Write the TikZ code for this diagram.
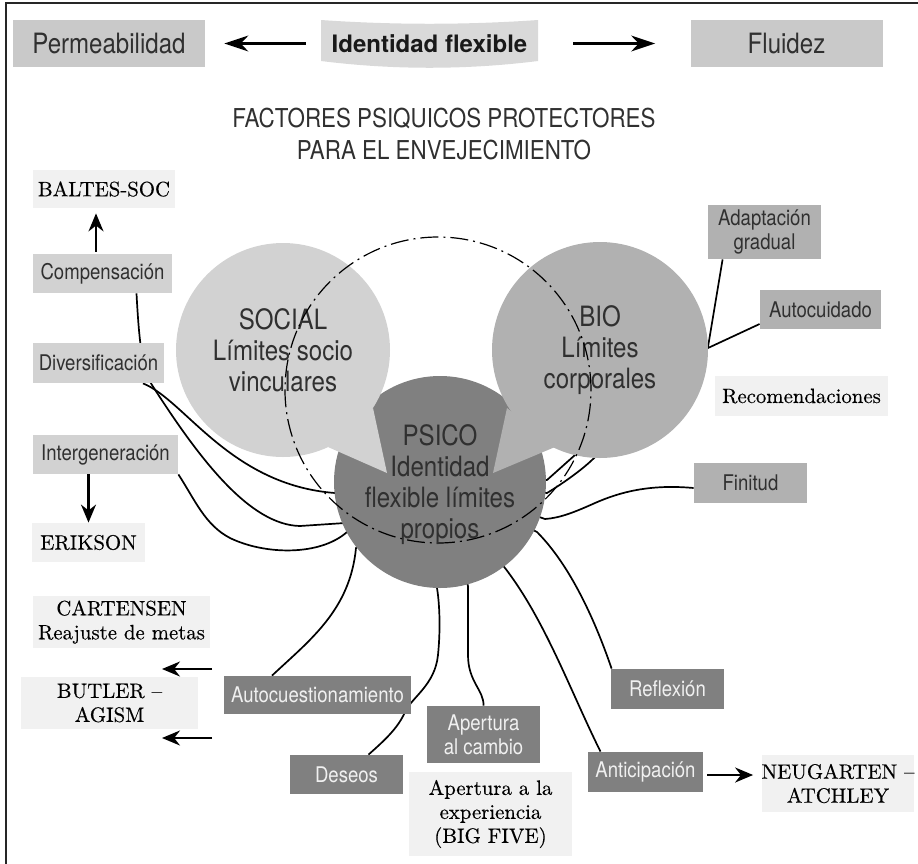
\documentclass[tikz,border=0pt]{standalone}
\usepackage{fontspec}
\usepackage{xcolor}
\usepackage{tikz}
\usetikzlibrary{arrows.meta, calc}

\newfontfamily\sanslight{TeX Gyre Heros}[FakeStretch=0.86, Ligatures=TeX]
\newfontfamily\sansplain{TeX Gyre Heros}[Ligatures=TeX]
\newfontfamily\serifdark{Latin Modern Roman}[FakeBold=0.35, Ligatures=TeX]

\definecolor{topgray}{HTML}{C9C9C9}
\definecolor{identgray}{HTML}{D9D9D9}
\definecolor{socgray}{HTML}{D2D2D2}
\definecolor{biogray}{HTML}{B1B1B1}
\definecolor{psigray}{HTML}{808080}
\definecolor{refgray}{HTML}{F1F1F1}
\definecolor{txtgray}{HTML}{303030}

\pgfdeclarelayer{background}
\pgfsetlayers{background,main}

\tikzset{
    topbox/.style={rectangle, fill=topgray, minimum width=96pt, minimum height=23.5pt, inner sep=0pt, text=txtgray, font=\sanslight\fontsize{14}{16}\selectfont},
    sbox/.style={rectangle, inner sep=0pt, align=center, text=txtgray, font=\sanslight\fontsize{10.8}{12}\selectfont},
    lbox/.style={sbox, fill=socgray},
    rbox/.style={sbox, fill=biogray},
    dbox/.style={sbox, fill=psigray, text=white!94!black},
    refbox/.style={rectangle, inner sep=0pt, align=center, fill=refgray, text=black, font=\serifdark\fontsize{10.4}{12}\selectfont},
    bubble/.style={circle, inner sep=0pt, align=center, text=txtgray, font=\sanslight\fontsize{14}{15.5}\selectfont},
    link/.style={draw=black, line width=0.85pt},
    arr/.style={-{Stealth[length=9pt, width=7.5pt]}, line width=1.1pt},
    bigarr/.style={-{Stealth[length=12pt, width=8pt]}, line width=1.1pt},
    dashdot/.style={line width=0.6pt, dash pattern=on 9pt off 2.5pt on 1pt off 2.5pt},
}

\begin{document}
\begin{tikzpicture}[x=0.5pt, y=-0.5pt]
    \useasboundingbox (0,0) rectangle (918,864);
    % Frame
    \draw[line width=1pt, black!85] (6,864) -- (6,3) -- (918,3);

    % Top row
    \node[topbox] (perm) at (109,43.5) {Permeabilidad};
    \node[topbox] (flu) at (786.5,43.5) {Fluidez};
    \fill[identgray] (321,20) .. controls (393,25) and (466,25) .. (538,20) -- (538,61) .. controls (466,70) and (393,70) .. (321,61) -- cycle;
    \node[minimum width=108.5pt, minimum height=22pt, inner sep=0pt, text=black!90, font=\sansplain\bfseries\fontsize{12}{14}\selectfont] (ident) at (429.5,43.5) {Identidad flexible};
    \draw[bigarr, shorten <=7.5pt, shorten >=9.5pt] (ident.west) -- (perm.east);
    \draw[bigarr, shorten <=17.5pt, shorten >=17.5pt] (ident.east) -- (flu.west);

    % Title
    \node[align=center, text=txtgray, font=\sanslight\fontsize{13}{16}\selectfont] (title) at (444,134) {FACTORES PSIQUICOS PROTECTORES\\PARA EL ENVEJECIMIENTO};

    % Circles
    \node[bubble, fill=psigray, minimum size=106pt] (psico) at (440,482) {};
    \fill[socgray] (373,408) -- (328,447) -- (387,473) -- cycle;
    \node[bubble, fill=socgray, minimum size=107pt] (social) at (283,350) {SOCIAL\\Límites socio\\vinculares};
    \fill[biogray] (507,408) -- (555,447) -- (493,473) -- cycle;
    \node[bubble, fill=biogray, minimum size=108pt] (bio) at (600,350) {BIO\\Límites\\corporales};
    \draw[dashdot] (438,390) circle[radius=76.5pt];
    \node[bubble] (psicotext) at (440,485) {PSICO\\Identidad\\flexible límites\\propios};

    % Left column
    \node[refbox, minimum width=71pt, minimum height=19pt] (baltes) at (104,189) {BALTES-SOC};
    \node[lbox, minimum width=69.5pt, minimum height=19.5pt] (comp) at (102.5,273.5) {Compensación};
    \node[lbox, minimum width=65.5pt, minimum height=20pt] (div) at (98.5,363) {Diversificación};
    \node[lbox, minimum width=72.5pt, minimum height=19.5pt] (inter) at (105.5,454.5) {Intergeneración};
    \node[refbox, minimum width=56.5pt, minimum height=19.5pt] (erik) at (88.5,542.5) {ERIKSON};
    \node[refbox, minimum width=88.5pt, minimum height=26pt] (cart) at (121.5,622) {CARTENSEN\\Reajuste de metas};
    \node[refbox, minimum width=88.5pt, minimum height=26pt] (butler) at (109.5,703) {BUTLER --\\AGISM};
    \draw[arr, shorten <=1pt, shorten >=2.5pt] ($(comp.north)+(-6.5,0)$) -- ($(baltes.south)+(-8,0)$);
    \draw[arr] (erik.north |- inter.south) -- (erik.north);
    \coordinate (agismA) at (212,669);
    \coordinate (agismAend) at (162,669);
    \coordinate (agismB) at (212,738);
    \coordinate (agismBend) at (162,738);
    \draw[arr] (agismA) -- (agismAend);
    \draw[arr] (agismB) -- (agismBend);

    % Bottom row
    \node[dbox, minimum width=93.5pt, minimum height=19pt] (autoc) at (317.5,695) {Autocuestionamiento};
    \node[dbox, minimum width=56.5pt, minimum height=19.5pt] (deseos) at (346.5,774.5) {Deseos};
    \node[dbox, minimum width=56.5pt, minimum height=28.5pt] (acamb) at (483.5,734.5) {Apertura\\al cambio};
    \node[refbox, minimum width=81.5pt, minimum height=42pt] (bigfive) at (490.5,814) {Apertura a la\\experiencia\\(BIG FIVE)};
    \node[dbox, minimum width=56.5pt, minimum height=20pt] (refl) at (667.5,689) {Reflexión};
    \node[dbox, minimum width=57.5pt, minimum height=20pt] (antic) at (645.5,772) {Anticipación};
    \node[refbox, minimum width=73pt, minimum height=28.5pt] (neug) at (838,783.5) {NEUGARTEN --\\ATCHLEY};
    \draw[arr, shorten <=2pt, shorten >=4pt] ($(antic.east)+(0,3)$) -- ($(neug.west)+(0,-8.5)$);

    % Right column
    \node[rbox, minimum width=56.5pt, minimum height=27pt] (adapt) at (764.5,232) {Adaptación\\gradual};
    \node[rbox, minimum width=60.5pt, minimum height=19.5pt] (autocui) at (820.5,309.5) {Autocuidado};
    \node[refbox, minimum width=86.5pt, minimum height=20pt] (recom) at (801.5,396) {Recomendaciones};
    \node[rbox, minimum width=56.5pt, minimum height=20pt] (finitud) at (750.5,483) {Finitud};

    % Links to the circles
    \begin{pgfonlayer}{background}
        \draw[link] ($(comp.south)+(34,0)$) .. controls (139,340) and (142,370) .. (152,385) .. controls (200,460) and (250,525) .. (300,526) -- (345,523) -- (psico.center);
        \draw[link] ($(div.south)+(44.5,0)$) .. controls (185,400) and (230,485) .. (335,493) -- (psico.center);
        \draw[link] (inter.south east) .. controls (195,500) and (205,525) .. (230,538) .. controls (265,555) and (320,556) .. (347,532) -- (psico.center);
        \draw[link] ($(autoc.north)+(-45.5,0)$) .. controls (310,640) and (350,610) .. (356,548) -- (psico.center);
        \draw[link] ($(deseos.north)+(22,0)$) .. controls (385,740) and (398,728) .. (405,712) .. controls (412,697) and (435,685) .. (438,655) .. controls (441,625) and (439,600) .. (437,588) -- (psico.center);
        \draw[link] (acamb.north) .. controls (484,690) and (468,682) .. (468,655) .. controls (468,630) and (468,605) .. (468,586) -- (psico.center);
        \draw[link] ($(antic.north)+(-45,0)$) .. controls (570,690) and (545,620) .. (505,568) -- (psico.center);
        \draw[link] ($(refl.north west)+(1,0)$) .. controls (595,620) and (570,565) .. (537,532) -- (psico.center);
        \draw[link] ($(finitud.west)+(0,5)$) .. controls (650,484) and (620,492) .. (595,503) .. controls (575,512) and (560,518) .. (545,519) -- (psico.center);
        \draw[link] ($(adapt.south west)+(15,0)$) -- (708,347) -- (597,455) .. controls (585,468) and (562,484) .. (547,493) -- (psico.center);
        \draw[link] ($(autocui.west)+(0,14.5)$) -- (708,348) -- (575,455) -- (547,480) -- (psico.center);
    \end{pgfonlayer}
\end{tikzpicture}
\end{document}
